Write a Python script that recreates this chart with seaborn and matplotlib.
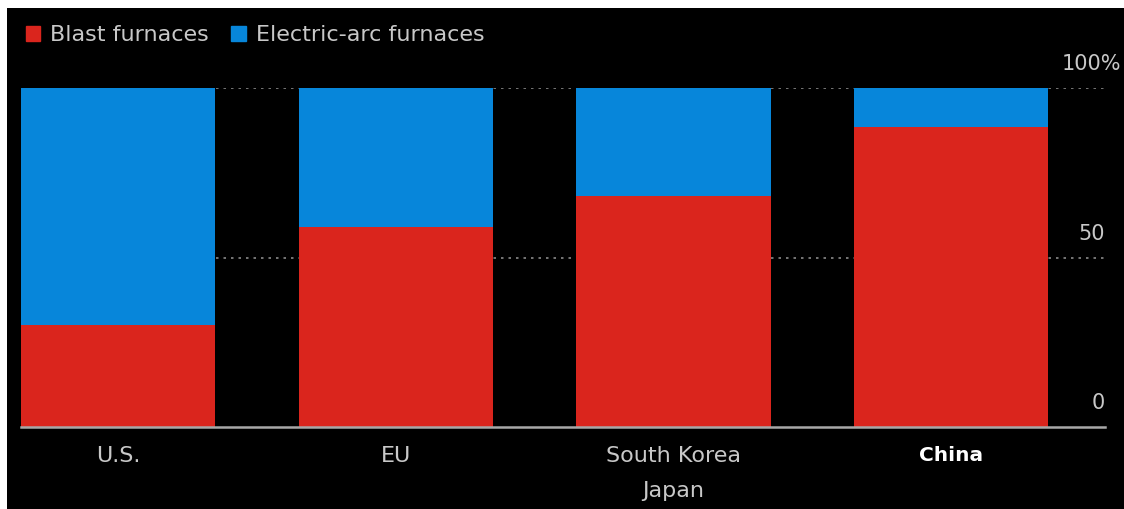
import matplotlib
matplotlib.use("Agg")
import matplotlib.pyplot as plt
from matplotlib.patches import Rectangle
import seaborn as sns
import pandas as pd

# share of steel output by furnace type (%)
regions = ["U.S.", "EU", "South Korea\nJapan", "China"]
blast = [30, 59, 68, 88.5]
electric = [70, 41, 32, 11.5]
y_ticks = [0, 50, 100]
y_tick_labels = ["0", "50", "100%"]

RED = "#da251d"
BLUE = "#0786da"
TXT = "#c8c8c8"
FS = 16

df = pd.DataFrame({"region": regions, "blast": blast, "electric": electric})
df["total"] = df["blast"] + df["electric"]

sns.set_style("dark")
plt.rcParams["font.family"] = ["DejaVu Sans"]

fig = plt.figure(figsize=(11.24, 5.09), dpi=100, facecolor="white")
# black panel (image has thin white border top/left)
fig.patches.append(Rectangle((7 / 1124, 0), 1, 1 - 8 / 509, transform=fig.transFigure,
                             facecolor="black", edgecolor="none", zorder=-10))

ax = fig.add_axes([21 / 1124, 1 - 427 / 509, 1084 / 1124, 339 / 509])
ax.set_facecolor("none")

# stacked bars: total (blue) then blast (red) over it
sns.barplot(data=df, x="region", y="total", color=BLUE, width=0.7, saturation=1,
            linewidth=0, ax=ax, zorder=3)
sns.barplot(data=df, x="region", y="blast", color=RED, width=0.7, saturation=1,
            linewidth=0, ax=ax, zorder=4)

ax.set_xlim(-0.35, 3.555)
ax.set_ylim(0, 100)
ax.set_xlabel("")
ax.set_ylabel("")
for s in ["top", "right", "left"]:
    ax.spines[s].set_visible(False)
ax.spines["bottom"].set_visible(True)
ax.spines["bottom"].set_color("#a8a8a8")
ax.spines["bottom"].set_linewidth(1.8)
ax.spines["bottom"].set_zorder(5)

# dotted grid lines
ax.grid(False)
for v in y_ticks[1:]:
    ax.axhline(v, color="#8a8a8a", lw=1.2, ls=(0, (1.5, 3)), zorder=1)

# y labels on the right, sitting above their lines
ax.set_yticks([])
for v, lab in zip(y_ticks, y_tick_labels):
    ax.annotate(lab, xy=(1, v), xycoords=("axes fraction", "data"),
                xytext=(0 if lab != "100%" else 12, 10), textcoords="offset points",
                ha="right", va="bottom", color=TXT, fontsize=FS - 1)

ax.tick_params(axis="x", length=0, pad=14, colors=TXT, labelsize=FS)
for t in ax.get_xticklabels():
    t.set_linespacing(1.9)
    t.set_va("top")
    if t.get_text() == "China":
        t.set_color("white")
        t.set_fontweight("bold")
        t.set_fontsize(FS - 1.5)

# legend
handles = [Rectangle((0, 0), 1, 1, color=RED), Rectangle((0, 0), 1, 1, color=BLUE)]
leg = fig.legend(handles, ["Blast furnaces", "Electric-arc furnaces"], loc="upper left",
                 bbox_to_anchor=(6 / 1124, 1 - 5 / 509), ncol=2, frameon=False,
                 fontsize=FS, handlelength=0.65, handleheight=0.65, handletextpad=0.45,
                 columnspacing=1.0, labelcolor=TXT)

fig.savefig("out.png", dpi=100, facecolor=fig.get_facecolor())
